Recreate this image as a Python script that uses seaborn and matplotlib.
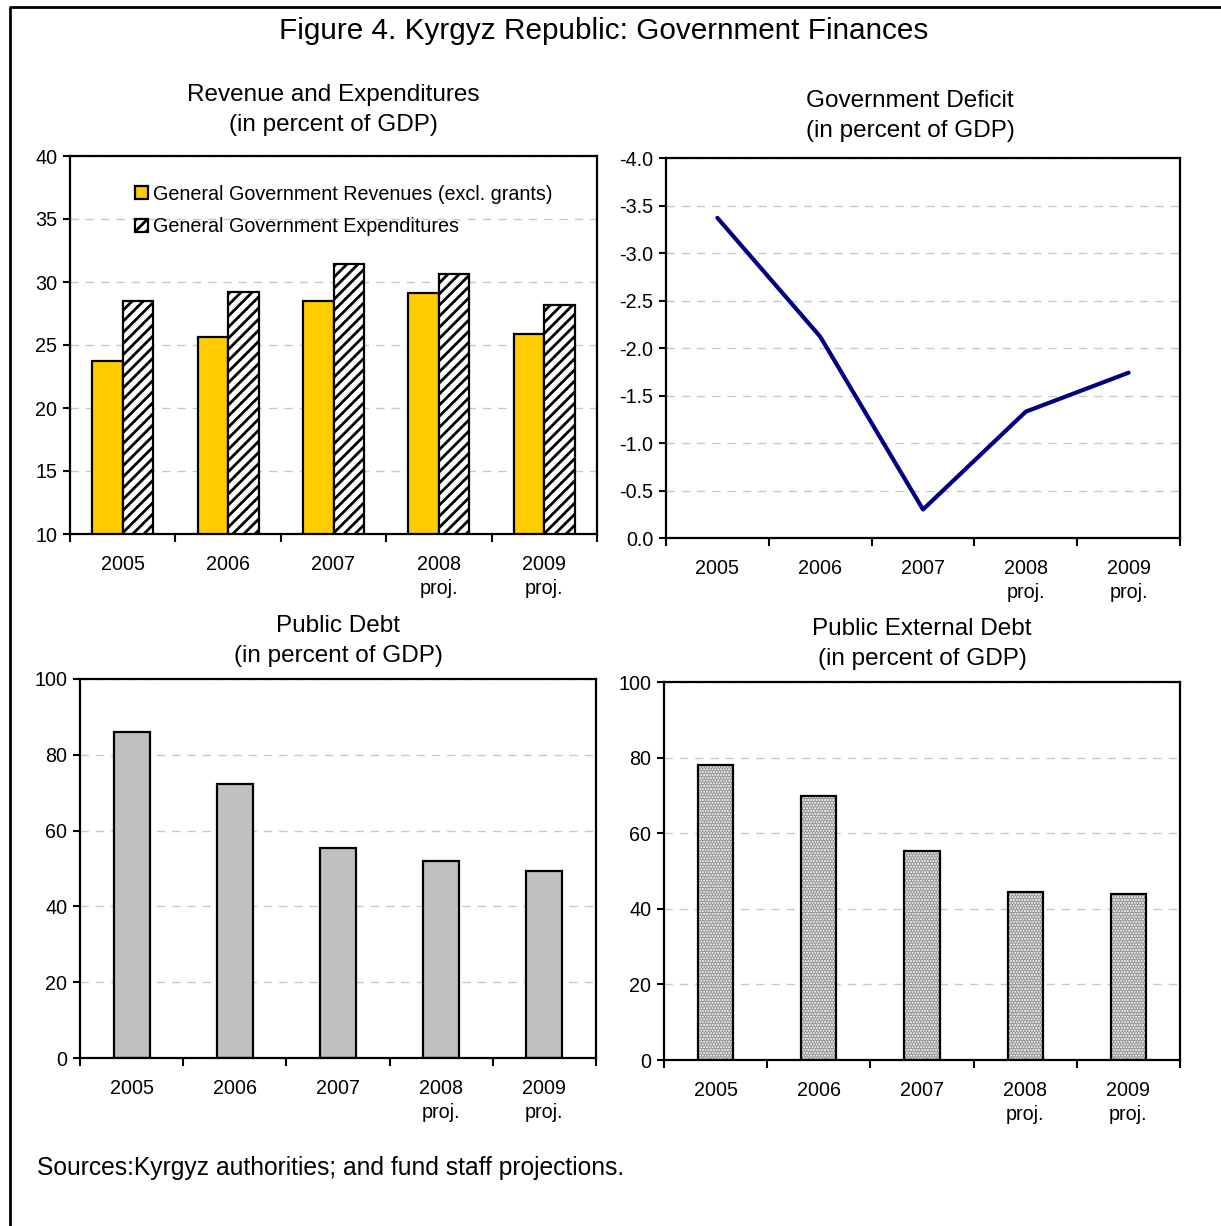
import matplotlib
matplotlib.use("Agg")
import matplotlib.pyplot as plt
from matplotlib.lines import Line2D
from matplotlib.patches import Patch
import numpy as np
import pandas as pd
import seaborn as sns

# data
years = ["2005", "2006", "2007", "2008\nproj.", "2009\nproj."]
revenues = [23.7, 25.6, 28.5, 29.1, 25.9]
expenditures = [28.5, 29.2, 31.4, 30.6, 28.2]
deficit = [-3.37, -2.12, -0.30, -1.33, -1.74]
public_debt = [86.0, 72.3, 55.4, 52.0, 49.3]
external_debt = [78.0, 69.8, 55.3, 44.4, 43.9]

rev_label = "General Government Revenues (excl. grants)"
exp_label = "General Government Expenditures"

sns.set_theme(style="white")
plt.rcParams["font.family"] = ["Liberation Sans", "DejaVu Sans"]
plt.rcParams["text.color"] = "black"
plt.rcParams["xtick.color"] = "black"
plt.rcParams["ytick.color"] = "black"
plt.rcParams["hatch.linewidth"] = 2.0
plt.rcParams["hatch.color"] = "black"

W, H = 1221, 1226
fig = plt.figure(figsize=(W / 100, H / 100), dpi=100)
fig.patch.set_facecolor("white")

TICK_FS = 14.2
TITLE_FS = 17.5


def box(l, t, r, b):
    return [l / W, 1 - b / H, (r - l) / W, (b - t) / H]


def style_axes(ax, yticks, fmt="{:.0f}"):
    n = len(years)
    ax.set_xlim(-0.5, n - 0.5)
    ax.set_xticks(np.arange(n + 1) - 0.5)
    ax.set_xticklabels([])
    ax.set_xticks(np.arange(n), minor=True)
    ax.set_xticklabels(years, minor=True, fontsize=TICK_FS, linespacing=1.35)
    ax.tick_params(axis="x", which="major", direction="out", length=6, width=1.5,
                   bottom=True, color="black")
    ax.tick_params(axis="x", which="minor", length=0, pad=15)
    ax.set_yticks(yticks)
    ax.set_yticklabels([fmt.format(v) for v in yticks], fontsize=TICK_FS)
    ax.tick_params(axis="y", direction="out", length=5, width=1.5, left=True,
                   color="black", pad=4)
    ax.yaxis.grid(True, linestyle=(0, (6, 5)), color="#c8c8c8", linewidth=1)
    ax.set_axisbelow(True)
    for s in ax.spines.values():
        s.set_visible(True)
        s.set_color("black")
        s.set_linewidth(1.6)
    ax.set_xlabel("")
    ax.set_ylabel("")


# --- Revenue and Expenditures ---
ax1 = fig.add_axes(box(70, 156, 597, 534))
df1 = pd.DataFrame({
    "year": years * 2,
    "value": revenues + expenditures,
    "series": [rev_label] * 5 + [exp_label] * 5,
})
sns.barplot(data=df1, x="year", y="value", hue="series", ax=ax1,
            palette=["#ffcc00", "white"], saturation=1, width=0.58, gap=0,
            edgecolor="black", linewidth=1.6, legend=False)
for p in ax1.patches[5:10]:
    p.set_hatch("///")
ax1.set_ylim(10, 40)
style_axes(ax1, np.arange(10, 41, 5))
handles = [Patch(facecolor="#ffcc00", edgecolor="black", linewidth=1.6),
           Patch(facecolor="white", edgecolor="black", linewidth=1.6, hatch="///")]
ax1.legend(handles, [rev_label, exp_label], loc="upper left",
           bbox_to_anchor=(0.108, 0.945), frameon=False, fontsize=14.2,
           handlelength=0.65, handleheight=0.65, handletextpad=0.25,
           labelspacing=0.7, borderaxespad=0)
ax1.set_title("Revenue and Expenditures\n(in percent of GDP)", fontsize=TITLE_FS,
              linespacing=1.5, pad=18)

# --- Government Deficit ---
ax2 = fig.add_axes(box(666, 158, 1180, 538))
sns.lineplot(x=years, y=deficit, ax=ax2, color="#000080", linewidth=3.0,
             sort=False)
ax2.set_ylim(0, -4)
style_axes(ax2, np.arange(0, -4.01, -0.5), fmt="{:.1f}")
ax2.set_title("Government Deficit\n(in percent of GDP)", fontsize=TITLE_FS,
              linespacing=1.5, pad=15, x=0.475)

# --- Public Debt ---
ax3 = fig.add_axes(box(80, 679, 596, 1058))
sns.barplot(x=years, y=public_debt, ax=ax3, color="#c0c0c0", saturation=1,
            width=0.35, edgecolor="black", linewidth=1.6)
ax3.set_ylim(0, 100)
style_axes(ax3, np.arange(0, 101, 20))
ax3.set_title("Public Debt\n(in percent of GDP)", fontsize=TITLE_FS,
              linespacing=1.5, pad=12)

# --- Public External Debt ---
ax4 = fig.add_axes(box(664, 682, 1180, 1060))
sns.barplot(x=years, y=external_debt, ax=ax4, color="#f2f2f2", saturation=1,
            width=0.34, edgecolor="#999999", linewidth=0, hatch="......")
sns.barplot(x=years, y=external_debt, ax=ax4, fill=False, width=0.34,
            edgecolor="black", linewidth=1.6)
ax4.set_ylim(0, 100)
style_axes(ax4, np.arange(0, 101, 20))
ax4.set_title("Public External Debt\n(in percent of GDP)", fontsize=TITLE_FS,
              linespacing=1.5, pad=12)

# titles and frame
fig.text(604 / W, 1 - 31 / H, "Figure 4. Kyrgyz Republic: Government Finances",
         ha="center", va="center", fontsize=21.4)
fig.text(37 / W, 1 - 1168 / H, "Sources:Kyrgyz authorities; and fund staff projections.",
         ha="left", va="center", fontsize=17.7)
fig.add_artist(Line2D([10 / W, 10 / W, 1.0], [0.0, 1 - 7 / H, 1 - 7 / H],
                      transform=fig.transFigure, color="black", linewidth=2))

fig.savefig("out.png", dpi=100)
